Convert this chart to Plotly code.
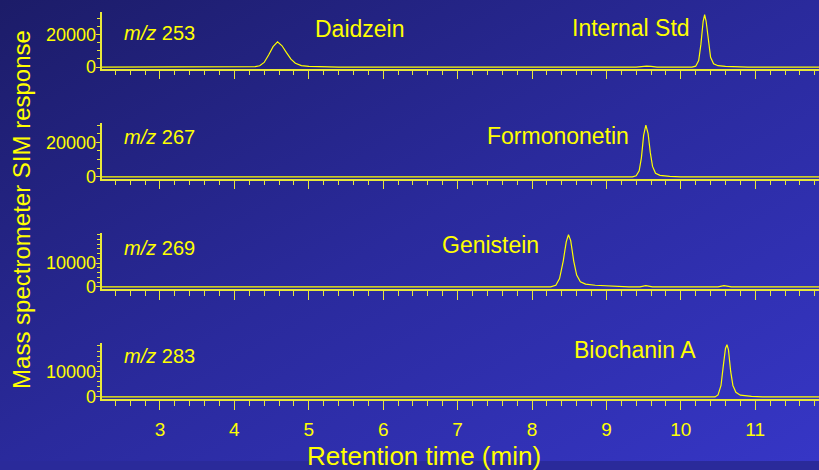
import base64
import plotly.graph_objects as go

# ---------------- data ----------------
# m/z 253 : Daidzein + Internal Std
t253 = [2.21, 4.20, 4.28, 4.34, 4.40, 4.46, 4.52, 4.58, 4.64, 4.70, 4.76, 4.82, 4.90, 5.00, 5.15, 5.40,
        9.40, 9.48, 9.54, 9.60, 9.68,
        10.15, 10.20, 10.24, 10.27, 10.30, 10.32, 10.34, 10.37, 10.40, 10.44, 10.50, 10.60, 10.75, 10.90, 11.86]
i253 = [0, 0, 200, 800, 2800, 7400, 12500, 15400, 13000, 8800, 4800, 2300, 900, 350, 100, 0,
        0, 400, 600, 400, 0,
        0, 500, 4000, 14000, 28000, 32000, 28000, 15000, 6000, 2000, 800, 400, 100, 0, 0]

# m/z 267 : Formononetin
t267 = [2.21, 9.35, 9.40, 9.44, 9.47, 9.50, 9.53, 9.56, 9.59, 9.62, 9.66, 9.72, 9.85, 10.00, 11.86]
i267 = [0, 0, 600, 3500, 11000, 24000, 30000, 25000, 14000, 6000, 2000, 800, 300, 0, 0]

# m/z 269 : Genistein
t269 = [2.21, 8.25, 8.32, 8.37, 8.42, 8.46, 8.49, 8.52, 8.56, 8.60, 8.65, 8.72, 8.85, 9.00, 9.15, 9.30,
        9.45, 9.53, 9.62, 10.50, 10.58, 10.68, 11.86]
i269 = [0, 0, 700, 3500, 11000, 19000, 22000, 19500, 11000, 5000, 2200, 1200, 700, 400, 200, 0,
        0, 500, 0, 0, 500, 0, 0]

# m/z 283 : Biochanin A
t283 = [2.21, 10.46, 10.50, 10.54, 10.57, 10.60, 10.62, 10.64, 10.67, 10.70, 10.74, 10.80, 10.95, 11.10, 11.86]
i283 = [0, 0, 800, 4500, 12000, 19000, 20500, 18500, 10000, 4500, 1800, 700, 250, 0, 0]

mz_labels = ["253", "267", "269", "283"]
peak_names = ["Daidzein", "Internal Std", "Formononetin", "Genistein", "Biochanin A"]
x_ticks = [3, 4, 5, 6, 7, 8, 9, 10, 11]
y_major = [20000, 20000, 10000, 10000]
y_minor = [5000, 5000, 2000, 2000]

# ---------------- layout geometry ----------------
W, H = 819, 470
YEL = "#ffff00"
AX = "#e8e83a"
FONT = "Liberation Sans, Arial, sans-serif"

def py(p):
    return 1 - p / H

panel_px = [(12.7, 70), (125, 182), (237.5, 295), (350, 407)]
panel_rng = [(-1000, 33400), (-1000, 31400), (-1030, 22730), (-890, 21040)]
x_dom = [101.5 / W, 1.0]
x_rng = [2.214, 11.857]

series = [(t253, i253), (t267, i267), (t269, i269), (t283, i283)]

fig = go.Figure()
layout = dict(
    width=W, height=H,
    margin=dict(l=0, r=0, t=0, b=0),
    paper_bgcolor="#2a2a9a",
    plot_bgcolor="rgba(0,0,0,0)",
    showlegend=False,
    font=dict(family=FONT, color=YEL),
)

for k, (tt, ii) in enumerate(series):
    n = "" if k == 0 else str(k + 1)
    fig.add_trace(go.Scatter(x=tt, y=ii, mode="lines",
                             line=dict(color=YEL, width=1.2),
                             xaxis="x" + n, yaxis="y" + n, hoverinfo="skip"))
    top, bot = panel_px[k]
    layout["xaxis" + n] = dict(
        domain=x_dom, range=x_rng, anchor="y" + n,
        showgrid=False, zeroline=False, showline=True, linecolor=AX, linewidth=1.6,
        tickmode="array", tickvals=x_ticks, ticktext=[str(v) for v in x_ticks],
        showticklabels=(k == 3), ticklabelstandoff=3,
        ticks="outside", ticklen=9, tickwidth=1.3, tickcolor=AX,
        minor=dict(dtick=0.2, tick0=0, ticks="outside", ticklen=5, tickwidth=1.2, tickcolor=AX),
        tickfont=dict(size=19, color=YEL, family=FONT),
    )
    layout["yaxis" + n] = dict(
        domain=[py(bot), py(top)], range=list(panel_rng[k]), anchor="x" + n,
        showgrid=False, zeroline=False, showline=True, linecolor=AX, linewidth=1.6,
        tickmode="array", tickvals=[0, y_major[k]], ticktext=["0", str(y_major[k])],
        ticklabelstandoff=-4,
        ticks="outside", ticklen=4, tickwidth=1.3, tickcolor=AX,
        minor=dict(dtick=y_minor[k], tick0=0, ticks="outside", ticklen=3, tickwidth=1.1, tickcolor=AX),
        tickfont=dict(size=18, color=YEL, family=FONT),
    )

annotations = []
mz_y = [33.3, 139.3, 252.7, 363.3]
for k, lab in enumerate(mz_labels):
    annotations.append(dict(xref="paper", yref="paper", x=122 / W, y=py(mz_y[k]),
                            xanchor="left", yanchor="middle", showarrow=False,
                            text="<i>m/z</i> " + lab, font=dict(size=20, color=YEL, family=FONT)))

peak_pos = [(360, 30), (631, 28.3), (557.5, 138.3), (490, 249.3), (634.5, 356.7)]
for name, (px_, py_) in zip(peak_names, peak_pos):
    annotations.append(dict(xref="paper", yref="paper", x=px_ / W, y=py(py_),
                            xanchor="center", yanchor="middle", showarrow=False,
                            text=name, font=dict(size=23, color=YEL, family=FONT)))

annotations.append(dict(xref="paper", yref="paper", x=424 / W, y=py(465),
                        xanchor="center", yanchor="middle", showarrow=False,
                        text="Retention time (min)", font=dict(size=26, color=YEL, family=FONT)))
annotations.append(dict(xref="paper", yref="paper", x=22 / W, y=py(214),
                        xanchor="center", yanchor="middle", showarrow=False, textangle=-90,
                        text="Mass spectrometer SIM response", font=dict(size=24, color=YEL, family=FONT)))
layout["annotations"] = annotations

svg = ("<svg xmlns='http://www.w3.org/2000/svg' width='819' height='470' viewBox='0 0 819 470' "
       "preserveAspectRatio='none'><defs><linearGradient id='g' x1='0' y1='0' x2='1' y2='1'>"
       "<stop offset='0' stop-color='#1c1c68'/><stop offset='0.5' stop-color='#2a2a9c'/>"
       "<stop offset='1' stop-color='#3636c6'/></linearGradient></defs>"
       "<rect width='819' height='470' fill='url(#g)'/></svg>")
src = "data:image/svg+xml;base64," + base64.b64encode(svg.encode()).decode()
layout["images"] = [dict(source=src, xref="paper", yref="paper", x=0, y=1, sizex=1, sizey=1,
                         xanchor="left", yanchor="top", sizing="stretch", layer="below")]

fig.update_layout(**layout)
fig.write_html("out.html")
